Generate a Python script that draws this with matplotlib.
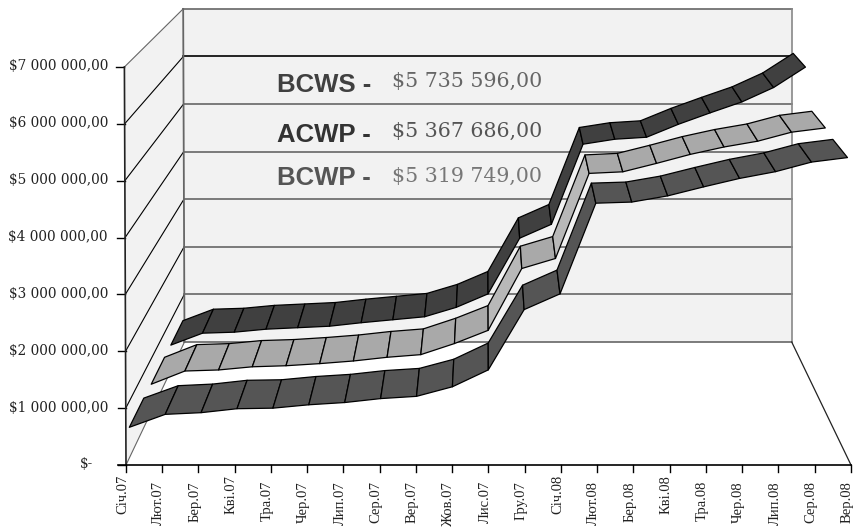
"""Стрічковий 3D-графік BCWS / ACWP / BCWP (псевдо-перспектива на звичайній осі)."""
import matplotlib
matplotlib.use("Agg")
import matplotlib.pyplot as plt
from matplotlib.patches import Polygon

W, H = 856, 527

months = ["Січ.07", "Лют.07", "Бер.07", "Кві.07", "Тра.07", "Чер.07", "Лип.07",
          "Сер.07", "Вер.07", "Жов.07", "Лис.07", "Гру.07", "Січ.08", "Лют.08",
          "Бер.08", "Кві.08", "Тра.08", "Чер.08", "Лип.08", "Сер.08", "Вер.08"]

# млн $
bcws = [0.51, 0.75, 0.77, 0.83, 0.86, 0.89, 0.96, 1.02, 1.08, 1.27, 1.54, 2.66,
        2.94, 4.55, 4.65, 4.69, 4.95, 5.18, 5.40, 5.69, 6.10]
acwp = [0.52, 0.77, 0.79, 0.85, 0.87, 0.91, 0.96, 1.03, 1.08, 1.29, 1.54, 2.71,
        2.90, 4.51, 4.54, 4.70, 4.87, 5.01, 5.12, 5.29, 5.37]
bcwp = [0.54, 0.77, 0.80, 0.87, 0.88, 0.94, 0.98, 1.05, 1.09, 1.26, 1.56, 2.63,
        2.91, 4.52, 4.54, 4.65, 4.81, 4.96, 5.08, 5.25, 5.33]

y_ticks = [0, 1, 2, 3, 4, 5, 6, 7]
y_labels = ["$-", "$1 000 000,00", "$2 000 000,00", "$3 000 000,00",
            "$4 000 000,00", "$5 000 000,00", "$6 000 000,00", "$7 000 000,00"]

legend_names = ["BCWS -", "ACWP -", "BCWP -"]
legend_values = ["$5 735 596,00", "$5 367 686,00", "$5 319 749,00"]

# геометрія перспективи (пікселі)
X0, DX = 126.0, 725.0 / 20
Y0, DY = 465.0, 56.86
VX, VY = 487.5, -289.0
K = 0.195
SHEAR = 0.004

WALL = "#f2f2f2"
GRID = "#666666"
DARK = "#404040"
MID = "#a9a9a9"
FRONT = "#555555"

plt.rcParams["font.family"] = "DejaVu Serif"


def project(cat, val, depth=0.0):
    """Категорія, значення (млн $), глибина 0..1 -> пікселі."""
    s = 1 / (1 + K * depth)
    x = X0 + cat * DX
    y = Y0 - val * DY
    px = VX + (x - VX) * s
    py = VY + (y - VY) * s
    return px + (py - Y0) * SHEAR * (1 - cat / 20), py


def ribbon(ax, values, d0, d1, color, steep_color):
    for i in range(len(values) - 1):
        pts = [project(i, values[i], d0), project(i + 1, values[i + 1], d0),
               project(i + 1, values[i + 1], d1), project(i, values[i], d1)]
        face = steep_color if values[i + 1] - values[i] > 1 else color
        ax.add_patch(Polygon(pts, closed=True, facecolor=face, edgecolor="black",
                             linewidth=0.9, joinstyle="round", zorder=5))


fig = plt.figure(figsize=(W / 100, H / 100), dpi=100)
ax = fig.add_axes([0, 0, 1, 1])
ax.set_xlim(0, W)
ax.set_ylim(H, 0)
ax.axis("off")

last = len(months) - 1
top = y_ticks[-1]

# стінки
ax.add_patch(Polygon([project(0, 0, 1), project(last, 0, 1), project(last, top, 1), project(0, top, 1)],
                     closed=True, facecolor=WALL, edgecolor="none"))
ax.add_patch(Polygon([project(0, 0, 0), project(0, 0, 1), project(0, top, 1), project(0, top, 0)],
                     closed=True, facecolor=WALL, edgecolor="none"))

# сітка
for t in y_ticks:
    a, b, c = project(0, t, 0), project(0, t, 1), project(last, t, 1)
    side = GRID if t in (0, top) else "black"
    back = "black" if t == 6 else GRID
    ax.plot([a[0], b[0]], [a[1], b[1]], color=side, lw=0.8)
    ax.plot([b[0], c[0]], [b[1], c[1]], color=back, lw=1.2)
    ax.plot([a[0] - 8, a[0]], [a[1], a[1]], color="black", lw=1.0)
    label_x = 93 if t == 0 else 108
    ax.text(label_x, a[1] - 0.5, y_labels[t], ha="right", va="center", fontsize=9.8, color="#222222")

# рамка стінок, вісі
p = project(0, 0, 1), project(0, top, 1)
ax.plot([p[0][0], p[1][0]], [p[0][1], p[1][1]], color=GRID, lw=1.3)
p = project(last, 0, 1), project(last, top, 1)
ax.plot([p[0][0], p[1][0]], [p[0][1], p[1][1]], color="#888888", lw=1.2)
p = project(0, 0, 0), project(0, top, 0)
ax.plot([p[0][0], p[1][0]], [p[0][1], p[1][1]], color="#222222", lw=1.2)
p = project(last, 0, 0), project(last, 0, 1)
ax.plot([p[0][0], p[1][0]], [p[0][1], p[1][1]], color="#222222", lw=0.9)
a = project(0, 0, 0)
b = project(last, 0, 0)
ax.plot([a[0] - 8, b[0]], [a[1], b[1]], color="black", lw=1.2)

for i, m in enumerate(months):
    x, y = project(i, 0, 0)
    ax.plot([x, x], [y, y + 7], color="black", lw=1.0)
    top_y = 475 if m.startswith(("Січ", "Кві")) else 481
    ax.text(x - 3.5, top_y, m, rotation=90, ha="center", va="top", fontsize=10.5,
            family="Liberation Serif", color="#222222")

# підписи на стіні
name_colors = ["#404040", "#333333", "#555555"]
value_colors = ["#666666", "#555555", "#777777"]
name_y = [85, 135, 178]
value_y = [81, 131, 176]
for n, v, c1, c2, y1, y2 in zip(legend_names, legend_values, name_colors, value_colors, name_y, value_y):
    ax.text(277, y1, n, ha="left", va="center", fontsize=18.5, fontweight="bold",
            family="Liberation Sans", color=c1)
    ax.text(392, y2, v, ha="left", va="center", fontsize=14.8, color=c2)

# стрічки — від задньої до передньої
ribbon(ax, bcws, 0.735, 0.97, DARK, DARK)
ribbon(ax, acwp, 0.39, 0.62, MID, "#b8b8b8")
ribbon(ax, bcwp, 0.05, 0.27, FRONT, FRONT)

fig.savefig("out.png", dpi=100)
